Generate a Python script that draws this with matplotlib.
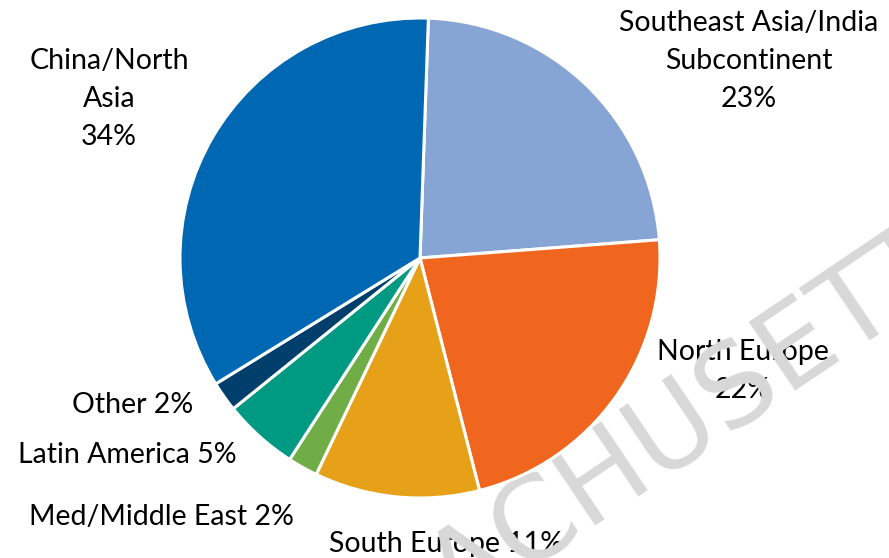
import numpy as np
import matplotlib
matplotlib.use("Agg")
import matplotlib.pyplot as plt
from matplotlib.font_manager import FontProperties

# regions, clockwise from 12 o'clock
regions = ["Southeast Asia/India\nSubcontinent", "North Europe", "South Europe",
           "Med/Middle East", "Latin America", "Other", "China/North\nAsia"]
shares = [23, 22, 11, 2, 5, 2, 34]
colors = ["#86A5D4", "#F0661E", "#E6A118", "#70AD47", "#009A82", "#003F6B", "#0068B3"]

# label text layout (Excel style): multi-line or single-line
label_sep = ["\n", "\n", " ", " ", " ", " ", "\n"]
# label centers in pixels (x, y from top)
label_pos = [(749, 61), (743, 371), (446, 544), (161, 517), (127, 455), (133, 405), (109, 99)]

W, H = 889, 558
fig = plt.figure(figsize=(W / 100, H / 100), dpi=100)
plt.rcParams['font.family'] = ['Lato', 'DejaVu Sans']

# square axes: pie centre (420, 258) px, radius 240 px; pie sits above the watermark
cx, cy, r = 420, 258, 240
ax = fig.add_axes([(cx - r) / W, (H - cy - r) / H, 2 * r / W, 2 * r / H], zorder=3)
ax.pie(shares, colors=colors, startangle=88, counterclock=False, radius=1,
       wedgeprops=dict(edgecolor="white", linewidth=2.2))
ax.set_xlim(-1, 1)
ax.set_ylim(-1, 1)
ax.axis("off")

for name, val, sep, (x, y) in zip(regions, shares, label_sep, label_pos):
    fig.text(x / W, 1 - y / H, f"{name}{sep}{val}%", ha="center", va="center",
             fontsize=20.5, color="black", linespacing=1.55, multialignment="center", zorder=1)

# watermark: place it so the first "T" stands where it does in the source
wm = "MASSACHUSETTS"
wm_font = FontProperties(family="DejaVu Sans", size=82)
rot = 34
rend = fig.canvas.get_renderer()
w_full = rend.get_text_width_height_descent(wm, wm_font, ismath=False)[0]
w_pre = rend.get_text_width_height_descent("MASSACHUSE", wm_font, ismath=False)[0]
w_t = rend.get_text_width_height_descent("T", wm_font, ismath=False)[0]
off = w_pre + w_t / 2 - w_full / 2
tx, ty = 874, 330  # foot of the first T stem, px from top-left
c, s = np.cos(np.radians(rot)), np.sin(np.radians(rot))
ax_x, ax_y = tx - off * c, ty + off * s
fig.text(ax_x / W, 1 - ax_y / H, wm, rotation=rot, ha="center", va="baseline",
         rotation_mode="anchor", fontproperties=wm_font, color="#D8D8D8", zorder=2)

fig.savefig("out.png", dpi=100)
